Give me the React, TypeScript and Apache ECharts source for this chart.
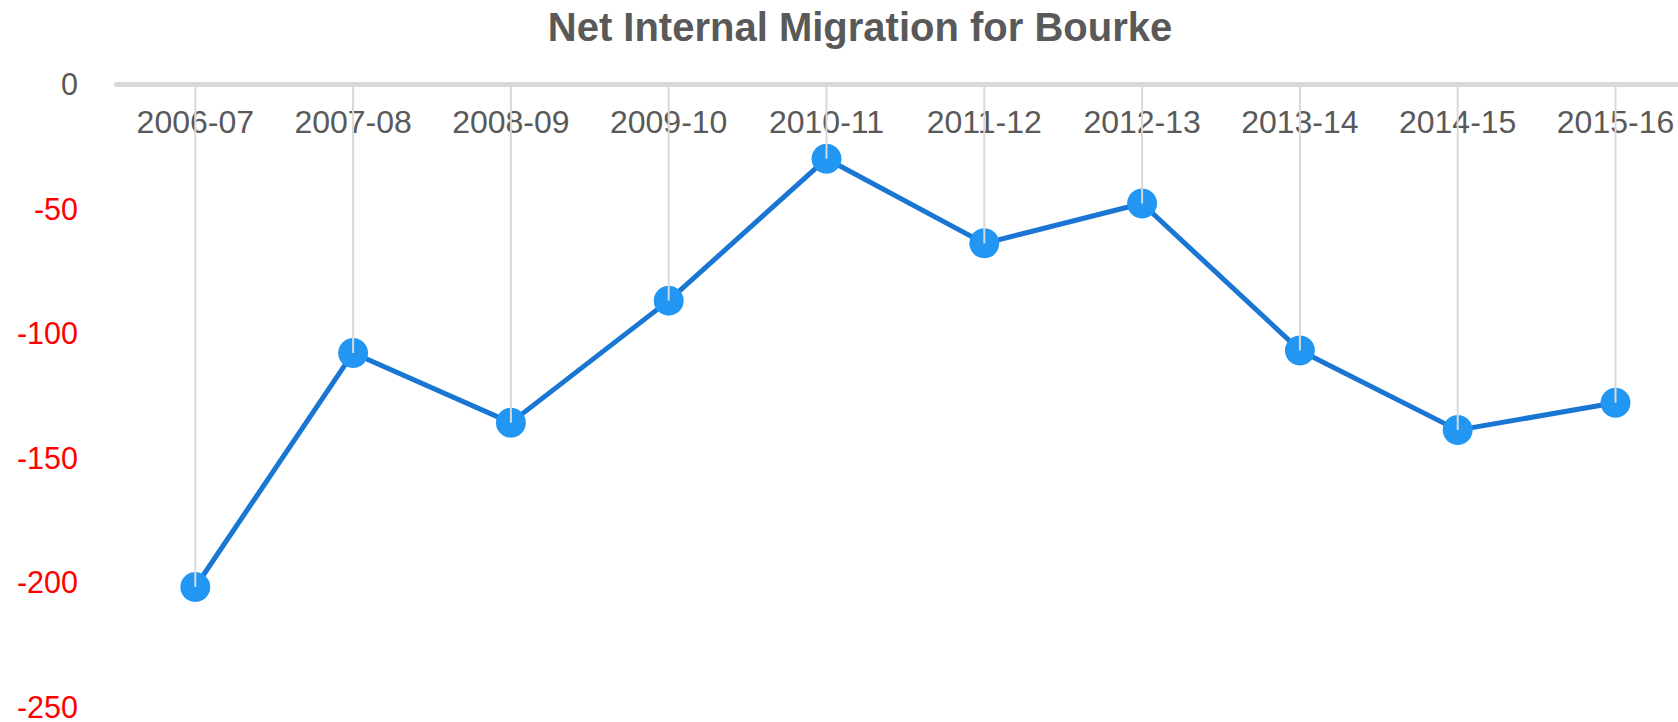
import React, { useEffect, useRef } from "react";
import * as echarts from "echarts";

const TITLE = "Net Internal Migration for Bourke";
const categories = [
  "2006-07", "2007-08", "2008-09", "2009-10", "2010-11",
  "2011-12", "2012-13", "2013-14", "2014-15", "2015-16",
];
const migration = [-202, -108, -136, -87, -30, -64, -48, -107, -139, -128];
const yMin = -250;
const yMax = 0;
const yStep = 50;

const FONT = "'Liberation Sans', Arial, Helvetica, sans-serif";

export default function App() {
  const ref = useRef<HTMLDivElement>(null);

  useEffect(() => {
    if (!ref.current) return;
    const chart = echarts.init(ref.current, undefined, { renderer: "svg" });
    chart.setOption({
      animation: false,
      backgroundColor: "#ffffff",
      textStyle: { fontFamily: FONT },
      graphic: [
        {
          type: "text",
          x: 860,
          y: 27,
          style: {
            text: TITLE,
            fontFamily: FONT,
            fontSize: 40,
            fontWeight: "bold",
            fill: "#595959",
            textAlign: "center",
            textVerticalAlign: "middle",
          },
        },
      ],
      grid: { left: 116.4, width: 1578, top: 84, bottom: 13.5, containLabel: false },
      xAxis: {
        type: "category",
        data: categories,
        position: "top",
        boundaryGap: true,
        axisLine: { show: true, onZero: false, lineStyle: { color: "#d9d9d9", width: 5 } },
        axisTick: { show: false },
        splitLine: { show: false },
        axisLabel: {
          inside: true,
          interval: 0,
          margin: 22,
          color: "#595959",
          fontSize: 32,
          fontFamily: FONT,
        },
      },
      yAxis: {
        type: "value",
        min: yMin,
        max: yMax,
        interval: yStep,
        axisLine: { show: false },
        axisTick: { show: false },
        splitLine: { show: false },
        axisLabel: {
          margin: 38.4,
          fontSize: 30.5,
          fontFamily: FONT,
          formatter: (v: number) => (v === 0 ? `{z|${v}}` : `{r|${v}}`),
          rich: {
            z: { color: "#595959", fontSize: 30.5, fontFamily: FONT },
            r: { color: "#ff0000", fontSize: 30.5, fontFamily: FONT },
          },
        },
      },
      series: [
        {
          name: "Net Internal Migration",
          type: "line",
          data: migration,
          z: 2,
          symbol: "circle",
          symbolSize: 30,
          lineStyle: { color: "#1976d2", width: 5 },
          itemStyle: { color: "#2196f3" },
          silent: true,
        },
        {
          name: "drop",
          type: "bar",
          data: migration,
          z: 3,
          barWidth: 2,
          itemStyle: { color: "#d9d9d9" },
          silent: true,
        },
      ],
    });
    return () => chart.dispose();
  }, []);

  return (
    <div
      style={{ position: "fixed", left: 0, top: 0, width: 1678, height: 722, overflow: "hidden", background: "#fff" }}
    >
      <div ref={ref} style={{ width: 1720, height: 722 }} />
    </div>
  );
}
